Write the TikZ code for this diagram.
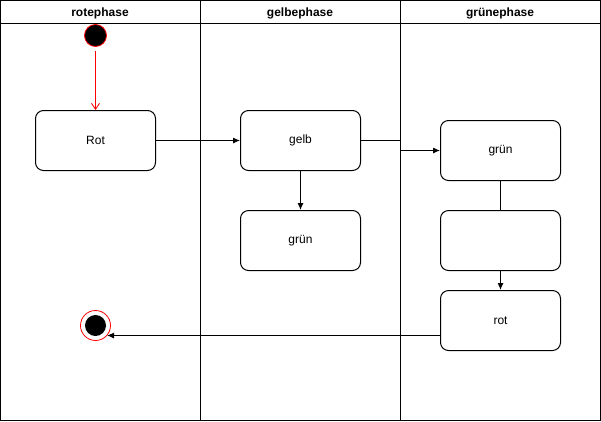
\documentclass[tikz,border=0pt]{standalone}
\usepackage{fontspec}
\setmainfont{Liberation Sans}
\usetikzlibrary{arrows.meta}
\begin{document}
\begin{tikzpicture}[x=1pt,y=-1pt,
  lane/.style={draw=black,line width=1pt},
  state/.style={draw=black,line width=1pt,rounded corners=8pt,minimum width=120pt,minimum height=60pt,font=\fontsize{12}{14}\selectfont,inner sep=0pt},
  head/.style={font=\bfseries\fontsize{12}{14}\selectfont},
  flow/.style={draw=black,line width=1pt,-{Latex[length=7pt,width=6pt]}},
  plain/.style={draw=black,line width=1pt}]
\useasboundingbox (0,0) rectangle (601,421);
% lanes
\draw[lane] (0.5,0.5) rectangle (600.5,420.5);
\draw[lane] (0.5,23) -- (600.5,23);
\draw[lane] (200.5,0.5) -- (200.5,420.5);
\draw[lane] (400.5,0.5) -- (400.5,420.5);
\node[head] (h1) at (100,13) {rotephase};
\node[head] (h2) at (300,13) {gelbephase};
\node[head] (h3) at (500,13) {grünephase};
% start
\node[circle,fill=black,draw=red,line width=0.8pt,minimum size=22pt,inner sep=0pt] (start) at (95.5,35.5) {};
% states
\node[state] (rot) at (95.5,140.5) {Rot};
\node[state] (gelb) at (300.5,140.5) {gelb};
\node[state] (gruen1) at (300.5,240.5) {grün};
\node[state] (gruen2) at (500.5,150.5) {grün};
\node[state] (empty) at (500.5,240.5) {};
\node[state] (rot2) at (500.5,320.5) {rot};
% end
\node[circle,draw=red,line width=0.8pt,minimum size=30pt,inner sep=0pt] (endo) at (95.5,325.5) {};
\node[circle,fill=black,minimum size=21pt,inner sep=0pt] (endi) at (95.5,325.5) {};
\coordinate (endhit) at (107,335.5);
\coordinate (rotout) at (440.5,335.5);
% connectors
\draw[draw=red,line width=0.8pt,-{Straight Barb[length=6pt,width=8pt]}] (start.south) ++(0,4) -- (rot.north);
\draw[flow] (rot) -- (gelb);
\draw[flow] (gelb) -- (gruen1);
\draw[flow] (gelb.east) -- (400.5,140.5) -- (400.5,150.5) -- (gruen2.west);
\draw[plain] (gruen2) -- (empty);
\draw[flow] (empty) -- (rot2);
\draw[flow] (rotout) -- (endhit);
\end{tikzpicture}
\end{document}
